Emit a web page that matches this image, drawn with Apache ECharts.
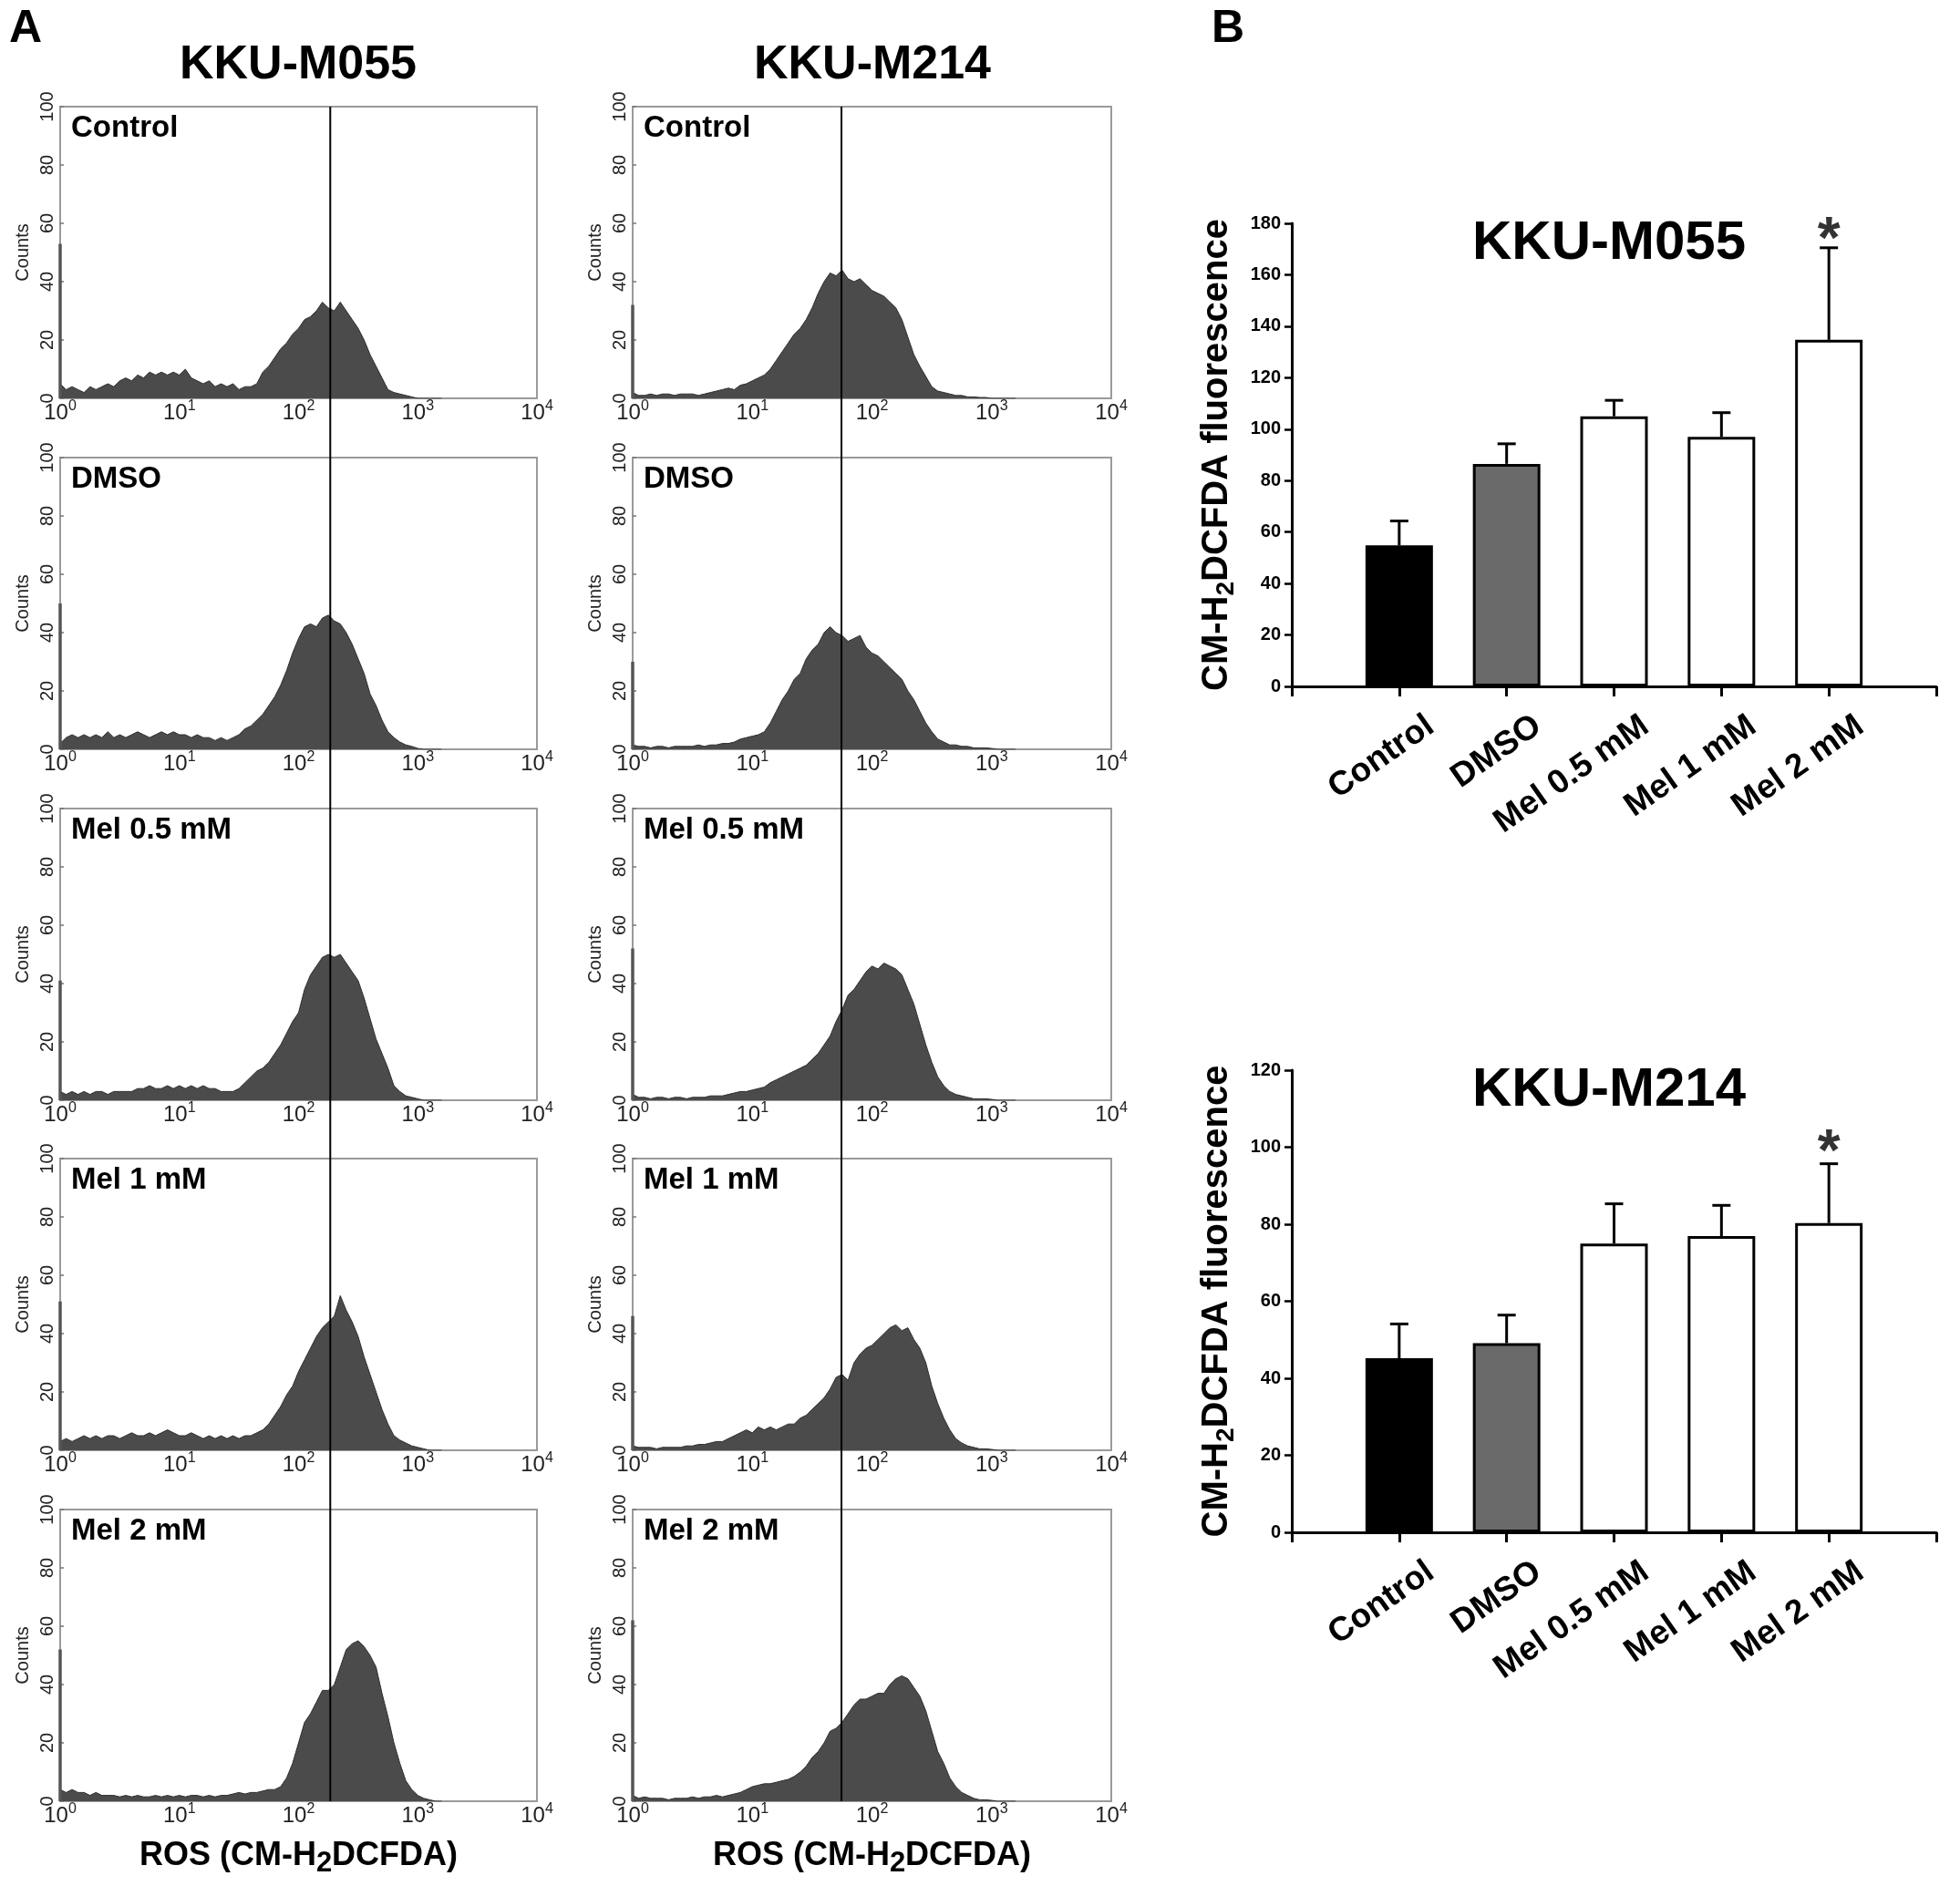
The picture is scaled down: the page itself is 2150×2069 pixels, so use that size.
<!DOCTYPE html>
<html><head><meta charset="utf-8">
<script src="https://cdn.jsdelivr.net/npm/echarts@6/dist/echarts.min.js"></script>
<style>html,body{margin:0;padding:0;background:#fff}#c{width:2150px;height:2069px}</style>
</head><body><div id="c"></div>
<script>
// ---------- data ----------
const CELL_LINES = ['KKU-M055', 'KKU-M214'];
const TREATMENTS = ['Control', 'DMSO', 'Mel 0.5 mM', 'Mel 1 mM', 'Mel 2 mM'];
// histogram channels: log10 intensity from 0 to 3.2 in steps of 0.05
const BIN_STEP = 0.05;
const BIN_COUNT = 65;
// KKU-M055 histograms (counts)
const M055_CONTROL = [5,3,4,3,2,4,3,4,5,4, 6,7,6,8,7,9,8,9,8,9, 8,10,7,6,5,6,4,5,4,5, 3,4,4,5,9,11,14,17,19,22, 24,27,28,30,33,31,30,33,30,27, 24,20,15,11,7,3,2,1.5,1,0.5, 0,0,0,0,0];
const M055_DMSO = [2,4,5,4,5,4,5,4,6,4, 5,4,5,6,5,4,5,6,5,6, 5,5,4,5,4,4,3,4,3,4, 5,7,8,10,12,15,18,22,27,33, 38,42,43,42,45,46,44,43,40,36, 31,26,19,15,10,6,4,2.5,1.5,1, 0.3,0,0,0,0];
const M055_MEL05 = [3,2,3,2,3,2,3,3,2,3, 3,3,3,4,4,5,4,4,5,4, 5,4,5,4,5,4,4,3,3,3, 4,6,8,10,11,13,16,19,23,27, 30,38,43,46,49,50,49,50,47,44, 41,35,28,21,16,11,5,3,1.5,1, 0.5,0,0,0,0];
const M055_MEL1 = [3,4,3,4,5,4,5,4,5,5, 4,5,6,5,5,6,5,6,7,6, 5,5,6,5,4,5,4,5,4,5, 4,5,5,6,7,9,12,15,19,22, 27,31,35,39,42,44,46,53,48,44, 39,32,26,20,14,9,5,3.5,2.5,1.5, 1,0.5,0,0,0];
const M055_MEL2 = [4,3,4,3,3,2,3,2,2,2, 1.5,2,1.5,2,1.5,1.5,2,1.5,2,1.5, 2,1.5,2,2,1.5,2,1.5,2,2,2.5, 3,2.5,3,3,3.5,4,4,5,8,13, 20,27,30,34,38,38,40,46,52,54, 55,53,50,46,37,29,20,13,7,4, 2,1,0.5,0,0];
// KKU-M214 histograms (counts)
const M214_CONTROL = [2,1,1,1.5,1,1.5,1.5,1,1.5,1.5, 1.5,1,1.5,2,2.5,3,3.5,3,4.5,5, 6,7,8,10,13,16,19,22,24,27, 31,36,40,43,42,44,41,40,41,39, 37,36,35,33,31,27,21,15,11,7.5, 4,2.5,2,1.5,1,1,0.5,0.5,0.3,0.3, 0,0,0,0,0];
const M214_DMSO = [1.5,1,1,0.5,1,1,0.5,1,1,1, 1,1.5,1,1.5,1.5,2,2,2.5,3.5,4, 4.5,5,6,9,13,17,20,24,26,31, 34,36,40,42,40,39,37,38,39,35, 33,32,30,28,26,24,20,17,13,9, 6,3.5,2.5,1.5,1.5,1,1,0.5,0.5,0.5, 0.3,0,0,0,0];
const M214_MEL05 = [2,1,1,0.5,1,1,0.5,1,1,0.5, 1,1,1,1.5,1.5,1.5,2,2.5,3,3, 3.5,4,4.5,6,7,8,9,10,11,12, 14,16,19,22,27,31,36,38,41,44, 46,45,47,46,45,43,38,33,26,19, 13,8,5,3,2,1.5,1,0.5,0.5,0.5, 0.3,0,0,0,0];
const M214_MEL1 = [1.5,1,1,1,0.5,1,1,1,1,1.5, 1.5,2,2,2.5,3,3,4,5,6,7, 6,8,7,8,7,8,9,9,11,12, 14,16,18,21,25,26,24,30,33,35, 36,38,40,42,43,41,42,38,35,30, 22,16,11,7,4,2.5,1.5,1,0.5,0.5, 0.3,0,0,0,0];
const M214_MEL2 = [2,1,1.5,1,1,1,0.5,1,1,1, 1.5,1,1.5,1.5,2,1.5,2,2.5,3,4, 5,5.5,6,6,6.5,7,7.5,8.5,10,12, 15,17,20,24,25,27,30,33,35,35, 36,37,37,40,42,43,42,39,36,31, 24,17,13,8,5,3,2,1,0.5,0.5, 0.3,0,0,0,0];
const HISTOGRAMS = [
  [M055_CONTROL, M055_DMSO, M055_MEL05, M055_MEL1, M055_MEL2],
  [M214_CONTROL, M214_DMSO, M214_MEL05, M214_MEL1, M214_MEL2]
];
// counts piled up in the first channel (10^0), per plot
const FIRST_CHANNEL_M055 = [53, 50, 41, 51, 52];
const FIRST_CHANNEL_M214 = [32, 30, 52, 46, 62];
const FIRST_CHANNEL = [FIRST_CHANNEL_M055, FIRST_CHANNEL_M214];
// gate marker position (fluorescence intensity) for each cell line
const GATE_POSITION = [184.5, 55.6];

// Panel B: mean fluorescence and upper error (mean + SD)
const MEAN_M055 = [54.8, 86.5, 105, 97, 134.7];
const UPPER_M055 = [64.3, 94.3, 111.2, 106.4, 170.5];
const MEAN_M214 = [45.2, 49.1, 75, 76.9, 80.3];
const UPPER_M214 = [54.1, 56.4, 85.3, 84.9, 95.7];
const STAR_VALUE = [178.6, 102];
const BAR_Y_MAX = [180, 120];
const BAR_Y_STEP = 20;

// ---------- styling / layout ----------
const FONT = 'Liberation Sans, Arial, Helvetica, sans-serif';
const BAR_COLORS = ['#000000', '#6a6a6a', '#ffffff', '#ffffff', '#ffffff'];
const COL_LEFT = [66, 694];
const COL_WIDTH = [523, 525];
const ROW_TOP = [117, 502, 887, 1271, 1656];
const ROW_H = 320;
const COL_CENTER = [327, 957];
const BAR_GRID = [
  {left: 1417, top: 245, width: 707, height: 508},
  {left: 1417, top: 1174, width: 707, height: 507}
];
const BAR_TITLE_TOP = [237, 1166];
const BAR_TITLE_CENTER = 1765;

const BIN_DECADES = Array.from({length: BIN_COUNT}, (_, i) => +(i * BIN_STEP).toFixed(2));

const grids = [], xAxes = [], yAxes = [], series = [], titles = [];

titles.push({text: 'A', left: 10, top: 7, padding: 0, textStyle: {fontSize: 50, fontWeight: 'bold', color: '#000', fontFamily: FONT}});
titles.push({text: 'B', left: 1329, top: 7, padding: 0, textStyle: {fontSize: 50, fontWeight: 'bold', color: '#000', fontFamily: FONT}});

const supRich = {
  b: {fontSize: 24, fontFamily: FONT, color: '#222', lineHeight: 30, verticalAlign: 'middle'},
  s: {fontSize: 16, fontFamily: FONT, color: '#222', lineHeight: 16, verticalAlign: 'top'}
};
const rosRich = {
  a: {fontSize: 36, fontWeight: 'bold', fontFamily: FONT, color: '#000', lineHeight: 48},
  sub: {fontSize: 31, fontWeight: 'bold', fontFamily: FONT, color: '#000', lineHeight: 31, verticalAlign: 'bottom'}
};

for (let c = 0; c < 2; c++) {
  titles.push({text: CELL_LINES[c], left: COL_CENTER[c], textAlign: 'center', top: 46, padding: 0,
    textStyle: {fontSize: 52, fontWeight: 'bold', color: '#000', fontFamily: FONT}});
  for (let r = 0; r < 5; r++) {
    const idx = grids.length;
    grids.push({left: COL_LEFT[c], top: ROW_TOP[r], width: COL_WIDTH[c], height: ROW_H,
      show: true, borderColor: '#9a9a9a', borderWidth: 2, backgroundColor: 'transparent'});
    xAxes.push({
      gridIndex: idx, type: 'log', logBase: 10, min: 1, max: 10000,
      axisLine: {show: false}, axisTick: {show: false}, splitLine: {show: false},
      axisLabel: {showMinLabel: true, showMaxLabel: true, margin: 1, fontSize: 24, color: '#222', fontFamily: FONT,
        formatter: v => '{b|10}{s|' + Math.round(Math.log10(v)) + '}', rich: supRich},
      name: r === 4 ? '{a|ROS (CM-H}{sub|2}{a|DCFDA)}' : '',
      nameLocation: 'middle', nameGap: 36, nameTextStyle: {rich: rosRich}
    });
    yAxes.push({
      gridIndex: idx, type: 'value', min: 0, max: 100, interval: 20,
      axisLine: {show: false}, splitLine: {show: false},
      axisTick: {show: true, inside: true, length: 4, lineStyle: {color: '#777', width: 1.5}},
      axisLabel: {rotate: 90, fontSize: 20, color: '#222', fontFamily: FONT, margin: 4},
      name: 'Counts', nameLocation: 'middle', nameGap: 31,
      nameTextStyle: {fontSize: 20, color: '#222', fontFamily: FONT}
    });
    const vals = HISTOGRAMS[c][r];
    series.push({
      type: 'line', xAxisIndex: idx, yAxisIndex: idx, symbol: 'none', silent: true, z: 2,
      data: vals.map((v, i) => [Math.pow(10, BIN_DECADES[i]), v]),
      lineStyle: {color: '#2e2e2e', width: 1},
      areaStyle: {color: '#4b4b4b', opacity: 1}
    });
    // first-channel pile-up drawn on the left edge
    series.push({
      type: 'line', xAxisIndex: idx, yAxisIndex: idx, symbol: 'none', silent: true, z: 3,
      data: [[1, 0], [1, FIRST_CHANNEL[c][r]]],
      lineStyle: {color: '#555555', width: 3.5}
    });
    titles.push({text: TREATMENTS[r], left: COL_LEFT[c] + 12, top: ROW_TOP[r] + 7, padding: 0,
      textStyle: {fontSize: 33, fontWeight: 'bold', color: '#000', fontFamily: FONT}});
  }
}

// gate lines spanning each column of histograms
for (let c = 0; c < 2; c++) {
  const idx = grids.length;
  grids.push({left: COL_LEFT[c], top: ROW_TOP[0], width: COL_WIDTH[c], height: ROW_TOP[4] + ROW_H - ROW_TOP[0]});
  xAxes.push({gridIndex: idx, type: 'log', logBase: 10, min: 1, max: 10000, show: false});
  yAxes.push({gridIndex: idx, type: 'value', min: 0, max: 1, show: false});
  series.push({type: 'line', xAxisIndex: idx, yAxisIndex: idx, symbol: 'none', silent: true, z: 6,
    data: [[GATE_POSITION[c], 0], [GATE_POSITION[c], 1]], lineStyle: {color: '#000', width: 2}});
}

// Panel B bar charts
const MEANS = [MEAN_M055, MEAN_M214];
const UPPERS = [UPPER_M055, UPPER_M214];
const yNameRich = {
  a: {fontSize: 40, fontWeight: 'bold', fontFamily: FONT, color: '#000', lineHeight: 48},
  sub: {fontSize: 28, fontWeight: 'bold', fontFamily: FONT, color: '#000', lineHeight: 28, verticalAlign: 'bottom'}
};
for (let k = 0; k < 2; k++) {
  const idx = grids.length;
  grids.push(Object.assign({}, BAR_GRID[k]));
  titles.push({text: CELL_LINES[k], left: BAR_TITLE_CENTER, textAlign: 'center', top: BAR_TITLE_TOP[k], padding: 0,
    textStyle: {fontSize: 60, fontWeight: 'bold', color: '#000', fontFamily: FONT}});
  xAxes.push({
    gridIndex: idx, type: 'category', data: [''].concat(TREATMENTS, ['']), boundaryGap: false,
    axisLine: {show: true, lineStyle: {color: '#000', width: 3}},
    axisTick: {show: true, interval: 0, length: 11, lineStyle: {color: '#000', width: 3}},
    axisLabel: {interval: 0, rotate: 35, fontSize: 37, fontWeight: 'bold', color: '#000', fontFamily: FONT,
      margin: 64, padding: [0, -42, 0, 0]},
    splitLine: {show: false}
  });
  yAxes.push({
    gridIndex: idx, type: 'value', min: 0, max: BAR_Y_MAX[k], interval: BAR_Y_STEP,
    axisLine: {show: true, lineStyle: {color: '#000', width: 3}},
    axisTick: {show: true, length: 8, lineStyle: {color: '#000', width: 2.5}},
    splitLine: {show: false},
    axisLabel: {fontSize: 20, fontWeight: 'bold', color: '#000', fontFamily: FONT, margin: 12},
    name: '{a|CM-H}{sub|2}{a|DCFDA fluorescence}', nameLocation: 'middle', nameGap: 58,
    nameTextStyle: {rich: yNameRich}
  });
  series.push({
    type: 'bar', xAxisIndex: idx, yAxisIndex: idx, barWidth: 74, silent: true, z: 2,
    data: ['-'].concat(MEANS[k].map((v, i) => ({value: v, itemStyle: {color: BAR_COLORS[i]}})), ['-']),
    itemStyle: {borderColor: '#000', borderWidth: 3}
  });
  series.push({
    type: 'custom', xAxisIndex: idx, yAxisIndex: idx, silent: true, z: 3,
    data: MEANS[k].map((v, i) => [i + 1, v, UPPERS[k][i]]),
    encode: {x: 0, y: [1, 2]},
    renderItem: (params, api) => {
      const p0 = api.coord([api.value(0), api.value(1)]);
      const p1 = api.coord([api.value(0), api.value(2)]);
      return {type: 'group', children: [
        {type: 'line', shape: {x1: p0[0], y1: p0[1], x2: p1[0], y2: p1[1]}, style: {stroke: '#000', lineWidth: 3}},
        {type: 'line', shape: {x1: p1[0] - 10, y1: p1[1], x2: p1[0] + 10, y2: p1[1]}, style: {stroke: '#000', lineWidth: 3}}
      ]};
    }
  });
  series.push({
    type: 'scatter', xAxisIndex: idx, yAxisIndex: idx, symbolSize: 0, silent: true, z: 4,
    data: [[5, STAR_VALUE[k]]],
    label: {show: true, position: 'inside', formatter: '*', fontSize: 64, fontWeight: 'bold', color: '#000',
      fontFamily: FONT, offset: [0, 16]}
  });
}

const chart = echarts.init(document.getElementById('c'), null, {renderer: 'canvas'});
chart.setOption({
  animation: false,
  backgroundColor: '#ffffff',
  textStyle: {fontFamily: FONT},
  title: titles,
  grid: grids,
  xAxis: xAxes,
  yAxis: yAxes,
  series: series
});
</script>
</body></html>
